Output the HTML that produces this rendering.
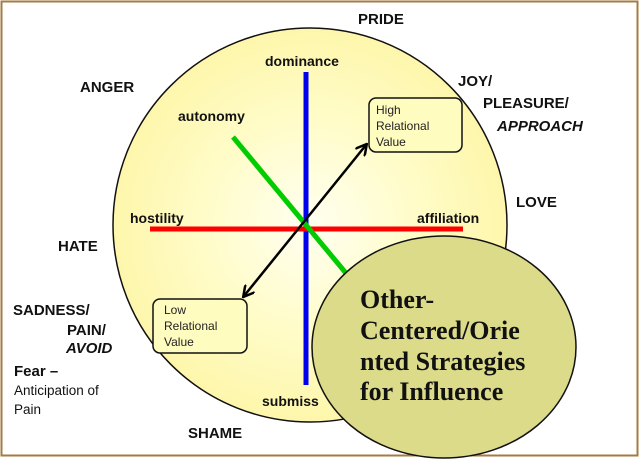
<!DOCTYPE html>
<html><head><meta charset="utf-8"><style>
html,body{margin:0;padding:0;background:#fff}
svg{display:block}
text{font-family:"Liberation Sans",Arial,sans-serif}
.b{font-weight:bold;font-size:15px;fill:#111}
.m{font-weight:bold;font-size:14px;fill:#111}
.s{font-size:12px;fill:#222}
.f{font-family:"Liberation Serif",serif;font-weight:bold;font-size:26px;fill:#111}
</style></head><body>
<svg width="639" height="461" viewBox="0 0 639 461" xmlns="http://www.w3.org/2000/svg">
<defs>
<radialGradient id="g" cx="0.5" cy="0.5" r="0.55">
<stop offset="0" stop-color="#fffff0"/><stop offset="0.5" stop-color="#fffcc8"/><stop offset="1" stop-color="#fdf5a5"/>
</radialGradient>
<marker id="a" viewBox="0 0 10 10" refX="8" refY="5" markerWidth="5" markerHeight="5" orient="auto-start-reverse">
<path d="M0,0 L9,5 L0,10" fill="none" stroke="#000" stroke-width="2"/>
</marker>
</defs>
<rect x="1.5" y="1.5" width="636" height="454" fill="#fff" stroke="#a57b40" stroke-width="2"/>
<ellipse cx="310" cy="225" rx="197" ry="197" fill="url(#g)" stroke="#111" stroke-width="1.5"/>
<line x1="306" y1="72" x2="306" y2="385" stroke="#0000ee" stroke-width="5"/>
<line x1="150" y1="229" x2="463" y2="229" stroke="#ff0000" stroke-width="5"/>
<line x1="233" y1="137" x2="350" y2="278" stroke="#00cc00" stroke-width="5"/>
<line x1="244" y1="296" x2="366" y2="145" stroke="#000" stroke-width="2.5" marker-start="url(#a)" marker-end="url(#a)"/>
<rect x="369" y="98" width="93" height="54" rx="7" fill="#fffcc0" stroke="#111" stroke-width="1.5"/>
<text class="s" x="376" y="114">High</text><text class="s" x="376" y="130">Relational</text><text class="s" x="376" y="146">Value</text>
<rect x="153" y="299" width="94" height="54" rx="7" fill="#fffcc0" stroke="#111" stroke-width="1.5"/>
<text class="s" x="164" y="314">Low</text><text class="s" x="164" y="330">Relational</text><text class="s" x="164" y="346">Value</text>
<text class="m" x="265" y="66">dominance</text>
<text class="m" x="178" y="121">autonomy</text>
<text class="m" x="130" y="223">hostility</text>
<text class="m" x="417" y="223">affiliation</text>
<text class="m" x="262" y="406">submiss</text>
<text class="b" x="358" y="24">PRIDE</text>
<text class="b" x="80" y="92">ANGER</text>
<text class="b" x="458" y="86">JOY/</text>
<text class="b" x="483" y="108">PLEASURE/</text>
<text class="b" x="497" y="131" font-style="italic">APPROACH</text>
<text class="b" x="516" y="207">LOVE</text>
<text class="b" x="58" y="251">HATE</text>
<text class="b" x="13" y="315">SADNESS/</text>
<text class="b" x="67" y="335">PAIN/</text>
<text class="b" x="66" y="353" font-style="italic">AVOID</text>
<text class="b" x="14" y="376">Fear –</text>
<text x="14" y="395" font-size="13.5" fill="#111">Anticipation of</text>
<text x="14" y="414" font-size="13.5" fill="#111">Pain</text>
<text class="b" x="188" y="438">SHAME</text>
<ellipse cx="444" cy="347" rx="132" ry="111" fill="#dcdb8a" stroke="#111" stroke-width="1.5"/>
<text class="f" x="360" y="308">Other-</text>
<text class="f" x="360" y="339">Centered/Orie</text>
<text class="f" x="360" y="370">nted Strategies</text>
<text class="f" x="360" y="400">for Influence</text>
</svg>
</body></html>
